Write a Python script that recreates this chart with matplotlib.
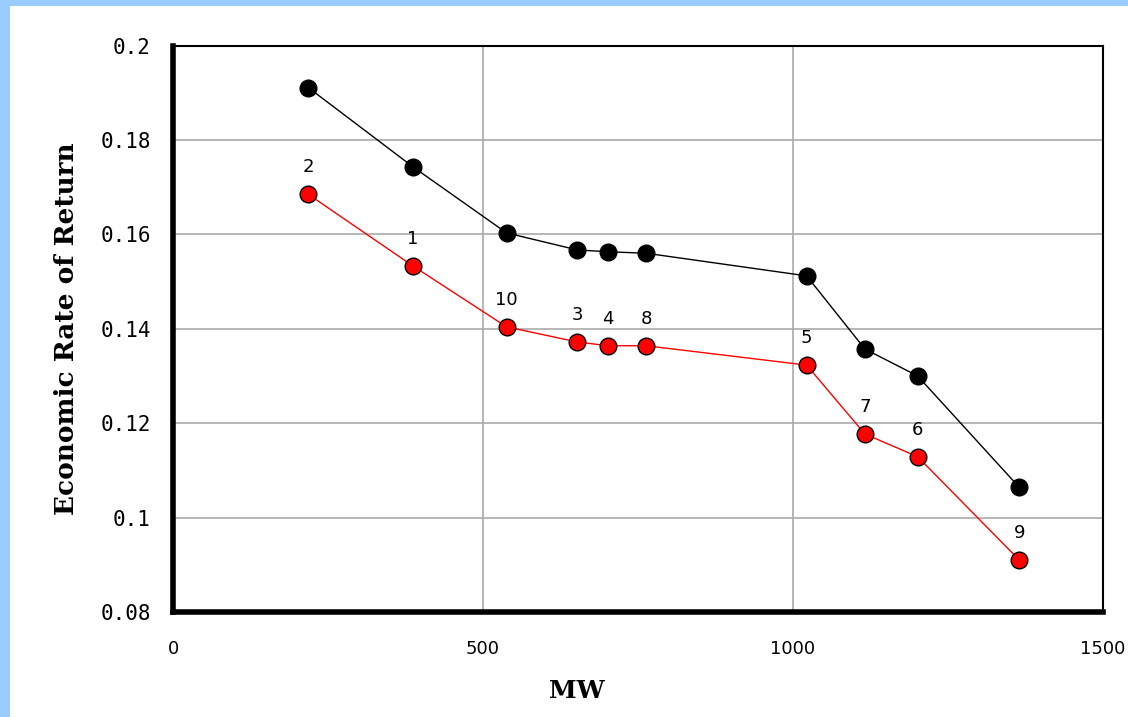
import numpy as np
import matplotlib
matplotlib.use("Agg")
import matplotlib.pyplot as plt
from matplotlib.patches import Rectangle

# data
mw = [218, 387, 538, 652, 702, 763, 1022, 1116, 1201, 1365]
upper = [0.1911, 0.1743, 0.1603, 0.1567, 0.1563, 0.1560, 0.1512, 0.1357, 0.1300, 0.1064]
lower = [0.1685, 0.1533, 0.1404, 0.1372, 0.1364, 0.1364, 0.1323, 0.1177, 0.1129, 0.0910]
labels = ["2", "1", "10", "3", "4", "8", "5", "7", "6", "9"]

xticks = [0, 500, 1000, 1500]
yticks = [0.08, 0.1, 0.12, 0.14, 0.16, 0.18, 0.2]
ytick_labels = ["0.08", "0.1", "0.12", "0.14", "0.16", "0.18", "0.2"]

fig = plt.figure(figsize=(11.28, 7.17), dpi=100)
fig.patch.set_facecolor("#99ccff")
fig.patches.append(Rectangle((10 / 1128, 0), 1, 1 - 6 / 717, transform=fig.transFigure,
                             facecolor="white", edgecolor="none", zorder=-5))

ax = fig.add_axes([173 / 1128, 1 - 612 / 717, 930 / 1128, (612 - 45.5) / 717])
ax.set_zorder(5)
ax.set_xlim(0, 1500)
ax.set_ylim(0.08, 0.2)

ax.grid(True, color="#aaaaaa", linewidth=1.2)
ax.set_axisbelow(True)

ax.plot(mw, upper, color="black", linewidth=1, marker="o", markersize=12,
        markerfacecolor="black", markeredgecolor="black", zorder=3)
ax.plot(mw, lower, color="red", linewidth=1, marker="o", markersize=12,
        markerfacecolor="red", markeredgecolor="black", markeredgewidth=1, zorder=3)

for x, y, lab in zip(mw, lower, labels):
    ax.annotate(lab, (x, y), xytext=(0, 13), textcoords="offset points",
                ha="center", va="bottom", fontsize=13, family="DejaVu Sans")

ax.set_xticks(xticks)
ax.set_xticklabels([str(t) for t in xticks], fontsize=13, family="DejaVu Sans")
ax.set_yticks(yticks)
ax.set_yticklabels(ytick_labels, fontsize=15, family="DejaVu Sans Mono")
ax.tick_params(length=0)
ax.tick_params(axis="y", pad=16)
ax.tick_params(axis="x", pad=20)

for side in ["left", "bottom"]:
    ax.spines[side].set_linewidth(4)
for side in ["top", "right"]:
    ax.spines[side].set_linewidth(1.5)

ax.set_xlabel("MW", fontsize=18, family="DejaVu Serif", fontweight="bold")
ax.xaxis.set_label_coords(0.434, -0.118)
ax.set_ylabel("Economic Rate of Return", fontsize=19, family="DejaVu Serif",
              fontweight="bold")
ax.yaxis.set_label_coords(-0.101, 0.5)

fig.savefig("out.png", dpi=100, facecolor=fig.get_facecolor())
